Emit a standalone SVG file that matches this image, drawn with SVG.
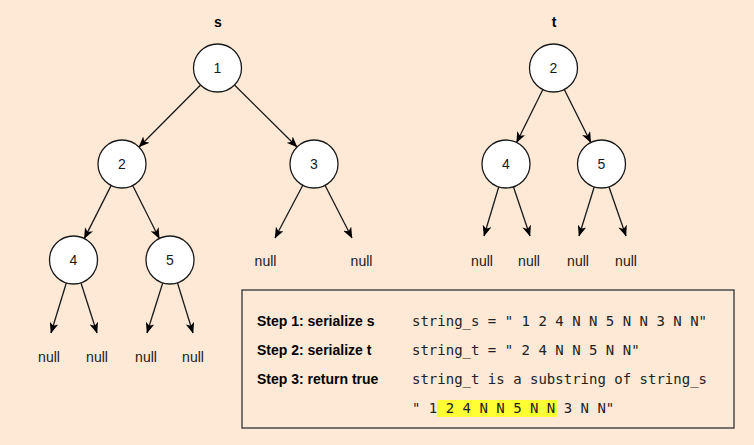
<svg xmlns="http://www.w3.org/2000/svg" width="754" height="445" viewBox="0 0 754 445">
<style>
.node circle{fill:#fff;stroke:#1a1a1a;stroke-width:1.3}
.lbl{font-family:"Liberation Sans",Arial,sans-serif;font-size:14px;fill:#1a1a1a;text-anchor:middle}
.title{font-family:"Liberation Sans",Arial,sans-serif;font-size:14px;font-weight:bold;fill:#000;text-anchor:middle}
.step{font-family:"Liberation Sans",Arial,sans-serif;font-size:14px;font-weight:bold;fill:#000}
.mono{font-family:"DejaVu Sans Mono","Liberation Mono",monospace;font-size:14px;fill:#222}
.edges line{stroke:#1a1a1a;stroke-width:1.3;marker-end:url(#arr)}
</style>
<defs>
<marker id="arr" markerUnits="userSpaceOnUse" viewBox="0 0 11 9" refX="10.5" refY="4.5" markerWidth="11" markerHeight="9" orient="auto">
<path d="M0,0 L11,4.5 L0,9 L3,4.5 Z" fill="#000"/>
</marker>
</defs>
<rect x="0" y="0" width="754" height="445" fill="#FDE9D6"/>
<text class="title" x="218" y="27">s</text>
<text class="title" x="554" y="27">t</text>
<g class="edges" id="edges">
<line x1="200.6" y1="85" x2="139" y2="147"/>
<line x1="234.5" y1="85" x2="297" y2="147"/>
<line x1="111.2" y1="185.4" x2="84.3" y2="238.6"/>
<line x1="132.7" y1="185.5" x2="159.3" y2="238.5"/>
<line x1="302.8" y1="185.2" x2="275" y2="238"/>
<line x1="325" y1="185.3" x2="352" y2="238"/>
<line x1="66.3" y1="283" x2="51" y2="333"/>
<line x1="81" y1="283" x2="97" y2="333"/>
<line x1="162.7" y1="283" x2="147" y2="333"/>
<line x1="177.5" y1="283" x2="193" y2="333"/>
<line x1="542.9" y1="89.5" x2="516.6" y2="142.5"/>
<line x1="564.3" y1="89.5" x2="590.8" y2="142.5"/>
<line x1="498.7" y1="187" x2="484" y2="236"/>
<line x1="513.5" y1="187" x2="530" y2="236"/>
<line x1="594.2" y1="187" x2="579" y2="236"/>
<line x1="609" y1="187" x2="626" y2="236"/>
</g>
<g class="node" id="s1"><circle cx="217.5" cy="68" r="24"/><text class="lbl" x="217.5" y="73">1</text></g>
<g class="node" id="s2"><circle cx="122" cy="164" r="24"/><text class="lbl" x="122" y="169">2</text></g>
<g class="node" id="s3"><circle cx="314" cy="164" r="24"/><text class="lbl" x="314" y="169">3</text></g>
<g class="node" id="s4"><circle cx="73.5" cy="260" r="24"/><text class="lbl" x="73.5" y="265">4</text></g>
<g class="node" id="s5"><circle cx="170" cy="260" r="24"/><text class="lbl" x="170" y="265">5</text></g>
<g class="node" id="t2"><circle cx="553.5" cy="68" r="24"/><text class="lbl" x="553.5" y="73">2</text></g>
<g class="node" id="t4"><circle cx="506" cy="164" r="24"/><text class="lbl" x="506" y="169">4</text></g>
<g class="node" id="t5"><circle cx="601.5" cy="164" r="24"/><text class="lbl" x="601.5" y="169">5</text></g>
<g id="nulls">
<text class="lbl" x="265.5" y="266">null</text>
<text class="lbl" x="361.5" y="266">null</text>
<text class="lbl" x="49" y="362">null</text>
<text class="lbl" x="97" y="362">null</text>
<text class="lbl" x="146" y="362">null</text>
<text class="lbl" x="193" y="362">null</text>
<text class="lbl" x="482" y="266">null</text>
<text class="lbl" x="529" y="266">null</text>
<text class="lbl" x="578" y="266">null</text>
<text class="lbl" x="626" y="266">null</text>
</g>
<g id="steps">
<rect x="242" y="290" width="492" height="138" fill="#FDE9D6" stroke="#333" stroke-width="1.3"/>
<rect x="437" y="400" width="120" height="17" fill="#FFFF33"/>
<text class="step" x="257" y="326">Step 1: serialize s</text>
<text class="step" x="257" y="355">Step 2: serialize t</text>
<text class="step" x="257" y="384">Step 3: return true</text>
<text class="mono" x="412" y="326" xml:space="preserve">string_s = " 1 2 4 N N 5 N N 3 N N"</text>
<text class="mono" x="412" y="355" xml:space="preserve">string_t = " 2 4 N N 5 N N"</text>
<text class="mono" x="412" y="384" xml:space="preserve">string_t is a substring of string_s</text>
<text class="mono" x="412" y="413" xml:space="preserve">" 1 2 4 N N 5 N N 3 N N"</text>
</g>
</svg>
